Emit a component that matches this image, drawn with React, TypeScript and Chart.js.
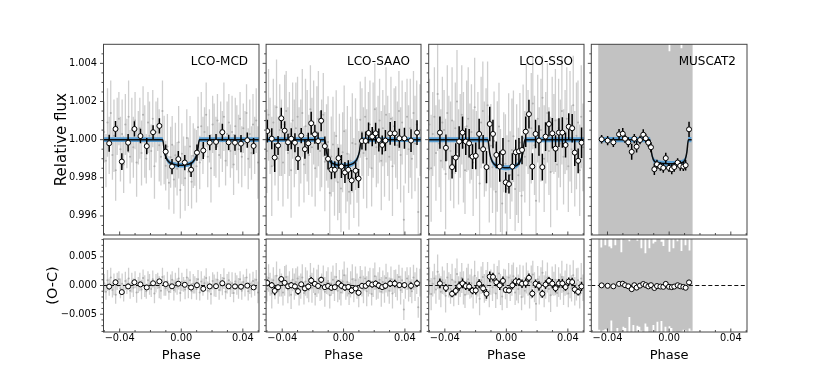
import React, { useEffect, useRef } from 'react';
import { Chart, registerables } from 'chart.js';

Chart.register(...registerables);
const FONT = '"DejaVu Sans", sans-serif';
Chart.defaults.font.family = FONT;

// ---------------- axes ----------------
const phaseMin = -0.0505;
const phaseMax = 0.0505;
const fluxMin = 0.995;
const fluxMax = 1.005;
const residMin = -0.0081;
const residMax = 0.0081;

const phaseTicks = [-0.04, 0, 0.04];
const phaseTickLabels = ['\u22120.04', '0.00', '0.04'];
const phaseMinorTicks = [-0.05, -0.03, -0.02, -0.01, 0.01, 0.02, 0.03, 0.05];
const fluxTicks = [0.996, 0.998, 1.0, 1.002, 1.004];
const fluxTickLabels = ['0.996', '0.998', '1.000', '1.002', '1.004'];
const fluxMinorTicks = [0.9955, 0.9965, 0.997, 0.9975, 0.9985, 0.999, 0.9995, 1.0005, 1.001, 1.0015, 1.0025, 1.003, 1.0035, 1.0045];
const residTicks = [-0.005, 0, 0.005];
const residTickLabels = ['\u22120.005', '0.000', '0.005'];
const residMinorTicks = [-0.008, -0.007, -0.006, -0.004, -0.003, -0.002, -0.001, 0.001, 0.002, 0.003, 0.004, 0.006, 0.007, 0.008];

const instruments = ['LCO-MCD', 'LCO-SAAO', 'LCO-SSO', 'MUSCAT2'];

// ---------------- LCO unbinned cadence (phase) ----------------
const lcoPhase = [
  -0.0500, -0.0489, -0.0479, -0.0468, -0.0458, -0.0447, -0.0437, -0.0426, -0.0416, -0.0405,
  -0.0395, -0.0384, -0.0374, -0.0363, -0.0353, -0.0342, -0.0332, -0.0321, -0.0311, -0.0300,
  -0.0290, -0.0279, -0.0269, -0.0258, -0.0248, -0.0237, -0.0227, -0.0216, -0.0206, -0.0195,
  -0.0185, -0.0174, -0.0164, -0.0153, -0.0143, -0.0132, -0.0122, -0.0111, -0.0101, -0.0090,
  -0.0080, -0.0069, -0.0059, -0.0048, -0.0038, -0.0027, -0.0017, -0.0006, 0.0004, 0.0015,
  0.0025, 0.0036, 0.0046, 0.0057, 0.0067, 0.0078, 0.0088, 0.0099, 0.0109, 0.0120,
  0.0130, 0.0141, 0.0151, 0.0162, 0.0172, 0.0183, 0.0193, 0.0204, 0.0214, 0.0225,
  0.0235, 0.0246, 0.0256, 0.0267, 0.0277, 0.0288, 0.0298, 0.0309, 0.0319, 0.0330,
  0.0340, 0.0351, 0.0361, 0.0372, 0.0382, 0.0393, 0.0403, 0.0414, 0.0424, 0.0435,
  0.0445, 0.0456, 0.0466, 0.0477, 0.0487, 0.0498,
];

// ---------------- LCO-MCD ----------------
const mcdResidPpt = [
  0.4, -1.1, 0.9, -0.3, 1.4, -0.8, 0.2, -1.6, 0.7, 1.1,
  -0.5, 0.3, -1.3, 0.8, -0.2, 1.2, -0.9, 0.5, -0.4, 1.0,
  -1.2, 0.1, 0.6, -0.7, 1.3, -0.1, -1.0, 0.9, 0.2, -0.6,
  1.1, -1.4, 0.4, 0.8, -0.3, -0.9, 1.5, 0.0, -0.5, 0.7,
  -1.1, 0.3, 1.0, -0.8, 0.5, -0.2, 1.2, -1.3, 0.6, 0.2,
  -0.7, 1.4, -0.4, 0.9, -1.0, 0.3, 0.1, -0.6, 1.1, -1.2,
  0.7, -0.3, 0.4, 1.3, -0.9, 0.2, -1.5, 0.8, 0.0, -0.4,
  1.0, -0.8, 0.5, -0.1, 1.2, -1.1, 0.3, 0.9, -0.6, 0.4,
  -1.3, 0.7, 0.1, -0.5, 1.1, -0.9, 0.6, -0.2, 1.4, -1.0,
  0.3, -0.7, 0.8, -0.3, 1.0, -1.2,
];
const mcdErrPpt = [
  1.6, 1.4, 1.8, 1.5, 1.7, 1.3, 1.9, 1.6, 1.5, 1.4,
  1.7, 1.8, 1.5, 1.6, 1.3, 1.9, 1.4, 1.7, 1.6, 1.5,
  1.8, 1.4, 1.6, 1.7, 1.5, 1.9, 1.3, 1.6, 1.8, 1.4,
  1.5, 1.7, 1.6, 1.4, 1.9, 1.5, 1.6, 1.8, 1.3, 1.7,
  1.4, 1.6, 1.5, 1.8, 1.7, 1.4, 1.9, 1.5, 1.6, 1.3,
  1.7, 1.5, 1.8, 1.6, 1.4, 1.7, 1.5, 1.9, 1.6, 1.4,
  1.8, 1.5, 1.3, 1.7, 1.6, 1.4, 1.8, 1.5, 1.9, 1.6,
  1.4, 1.7, 1.5, 1.6, 1.8, 1.3, 1.7, 1.5, 1.4, 1.9,
  1.6, 1.5, 1.7, 1.8, 1.4, 1.6, 1.3, 1.7, 1.5, 1.6,
  1.8, 1.4, 1.6, 1.5, 1.7, 1.9,
];
const mcdBinPhase = [
  -0.0468, -0.0427, -0.0386, -0.0345, -0.0304, -0.0265, -0.0224, -0.0183, -0.0142, -0.0101,
  -0.0060, -0.0019, 0.0023, 0.0064, 0.0102, 0.0143, 0.0185, 0.0226, 0.0267, 0.0308,
  0.0349, 0.0388, 0.0429, 0.0470,
];
const mcdBinFlux = [
  0.99981, 1.00056, 0.99885, 0.99984, 1.00056, 1.00019, 0.99966, 1.00039, 1.00072, 0.99937,
  0.99859, 0.99898, 0.99880, 0.99842, 0.99932, 0.99943, 0.99984, 0.99988, 1.00039, 0.99986,
  0.99984, 0.99979, 0.99997, 0.99967,
];
const mcdBinErrPpt = [
  0.45, 0.42, 0.44, 0.46, 0.40, 0.38, 0.42, 0.36, 0.40, 0.38,
  0.40, 0.42, 0.40, 0.38, 0.42, 0.45, 0.40, 0.42, 0.44, 0.40,
  0.42, 0.45, 0.40, 0.42,
];
const mcdModelPhase = [-0.0505, -0.0121, -0.0109, -0.0097, -0.0083, -0.0065, -0.0040, -0.0015, 0.0010, 0.0035, 0.0060, 0.0078, 0.0092, 0.0105, 0.0118, 0.0505];
const mcdModelFlux = [1.0, 1.0, 0.99935, 0.99903, 0.99886, 0.99875, 0.99869, 0.99866, 0.99866, 0.99869, 0.99875, 0.99886, 0.99903, 0.99935, 1.0, 1.0];
const mcdBandPpt = 0.12;

// ---------------- LCO-SAAO ----------------
const saaoResidPpt = [
  -0.6, 1.3, 0.2, -1.4, 0.9, -0.3, 1.7, -1.0, 0.5, 0.1,
  -1.2, 0.8, 1.5, -0.7, 0.3, -1.6, 1.0, -0.2, 0.6, 1.2,
  -0.9, -0.1, 1.4, -1.3, 0.7, 0.2, -0.8, 1.6, -0.4, 0.9,
  -1.5, 0.4, 1.1, -0.6, -0.2, 1.3, -1.1, 0.5, 0.8, -1.7,
  0.3, 1.0, -0.5, 1.5, -0.9, 0.1, -1.2, 0.7, 1.8, -0.3,
  0.6, -1.4, 0.2, 1.1, -0.8, 0.9, -0.1, -1.3, 1.4, 0.4,
  -0.7, 1.2, -1.0, 0.3, 0.8, -1.5, 0.5, 1.6, -0.4, 0.0,
  1.0, -1.1, 0.6, -0.6, 1.3, 0.2, -0.9, 1.1, -1.4, 0.7,
  0.4, -0.3, 1.5, -0.8, 0.9, -4.2, 0.1, 1.2, -0.5, 0.6,
  -1.0, 1.4, -0.2, 0.8, -3.8, 0.5,
];
const saaoErrPpt = [
  2.2, 2.4, 2.0, 2.6, 2.3, 2.1, 2.5, 2.2, 2.4, 2.0,
  2.3, 2.6, 2.1, 2.4, 2.2, 2.5, 2.0, 2.3, 2.4, 2.1,
  2.6, 2.2, 2.3, 2.0, 2.5, 2.4, 2.1, 2.3, 2.6, 2.2,
  2.0, 2.4, 2.5, 2.1, 2.3, 2.2, 2.6, 2.0, 2.4, 2.3,
  2.1, 2.5, 2.2, 2.4, 2.0, 2.6, 2.3, 2.1, 2.4, 2.2,
  2.5, 2.0, 2.3, 2.6, 2.1, 2.4, 2.2, 2.5, 2.0, 2.3,
  2.4, 2.1, 2.6, 2.2, 2.3, 2.0, 2.5, 2.4, 2.1, 2.3,
  2.2, 2.6, 2.0, 2.4, 2.5, 2.1, 2.3, 2.2, 2.6, 2.0,
  2.4, 2.3, 2.1, 2.5, 2.2, 1.8, 2.4, 2.0, 2.3, 2.6,
  2.1, 2.2, 2.5, 2.3, 1.8, 2.4,
];
const saaoBinPhase = [
  -0.0497, -0.0468, -0.0449, -0.0427, -0.0406, -0.0384, -0.0362, -0.0341, -0.0317, -0.0297,
  -0.0276, -0.0252, -0.0230, -0.0211, -0.0187, -0.0166, -0.0146, -0.0122, -0.0101, -0.0079,
  -0.0057, -0.0033, -0.0014, 0.0009, 0.0031, 0.0053, 0.0079, 0.0098, 0.0120, 0.0144,
  0.0163, 0.0187, 0.0209, 0.0230, 0.0252, 0.0273, 0.0304, 0.0334, 0.0364, 0.0397,
  0.0440, 0.0479,
];
const saaoBinFlux = [
  1.00045, 1.00005, 0.99906, 0.99969, 1.00112, 1.00047, 0.99986, 1.00005, 0.99984, 0.99901,
  1.00021, 0.99950, 0.99981, 1.00086, 1.00028, 0.99992, 1.00099, 0.99966, 0.99899, 0.99842,
  0.99842, 0.99903, 0.99859, 0.99828, 0.99842, 0.99786, 0.99837, 0.99796, 0.99993, 0.99993,
  1.00035, 1.00016, 1.00033, 0.99998, 0.99972, 0.99995, 1.00033, 1.00033, 1.00007, 1.00007,
  0.99995, 1.00037,
];
const saaoBinErrPpt = [
  0.60, 0.55, 0.75, 0.50, 0.55, 0.50, 0.45, 0.55, 0.50, 0.60,
  0.40, 0.50, 0.55, 0.60, 0.50, 0.45, 0.55, 0.50, 0.55, 0.50,
  0.45, 0.55, 0.60, 0.55, 0.50, 0.55, 0.45, 0.50, 0.45, 0.50,
  0.55, 0.50, 0.55, 0.60, 0.50, 0.55, 0.60, 0.65, 0.50, 0.55,
  0.60, 0.65,
];
const saaoModelPhase = [-0.0505, -0.0123, -0.0111, -0.0099, -0.0085, -0.0065, -0.0040, -0.0015, 0.0010, 0.0035, 0.0058, 0.0076, 0.0090, 0.0103, 0.0116, 0.0505];
const saaoModelFlux = [1.0, 1.0, 0.99935, 0.99902, 0.99884, 0.99873, 0.99867, 0.99864, 0.99864, 0.99867, 0.99873, 0.99884, 0.99902, 0.99935, 1.0, 1.0];
const saaoBandPpt = 0.12;

// ---------------- LCO-SSO ----------------
const ssoResidPpt = [
  0.8, -1.5, 0.3, 1.2, -0.7, 2.4, -0.2, -1.1, 0.9, 0.5,
  -1.8, 1.4, 0.1, -0.6, 1.0, -1.3, 0.6, 2.0, -0.9, 0.2,
  1.3, -0.4, -1.6, 0.7, 1.1, -0.2, 0.4, -1.2, 1.7, -0.8,
  0.3, -2.3, 0.9, 1.5, -0.5, 0.0, 1.8, -1.0, 0.6, -0.3,
  1.2, -1.4, 0.5, 2.1, -0.7, -1.9, 0.8, 0.2, -1.1, 1.4,
  -0.4, 0.9, 1.6, -1.2, 0.3, -0.6, 1.0, -2.0, 0.7, -0.9,
  1.3, 0.4, -1.5, 0.6, 1.9, -0.3, -3.2, 1.1, -0.8, 0.5,
  2.2, -1.0, 0.1, 1.4, -0.6, -1.7, 0.8, 0.3, 1.0, -1.3,
  0.6, -0.2, 1.5, -0.9, 0.4, 1.1, -1.4, 0.7, -0.5, 1.8,
  -1.0, 0.2, 0.9, -1.6, 1.2, -0.4,
];
const ssoErrPpt = [
  2.4, 2.8, 2.2, 2.6, 2.5, 3.0, 2.3, 2.7, 2.4, 2.1,
  2.9, 2.5, 2.2, 2.6, 2.8, 2.3, 2.4, 2.7, 2.5, 2.2,
  2.6, 2.9, 2.3, 2.4, 2.7, 2.1, 2.5, 2.8, 2.6, 2.3,
  2.2, 2.9, 2.4, 2.6, 2.5, 2.7, 2.3, 2.8, 2.2, 2.4,
  2.6, 2.5, 2.9, 2.3, 2.7, 2.4, 2.1, 2.6, 2.8, 2.5,
  2.3, 2.7, 2.4, 2.2, 2.9, 2.5, 2.6, 2.3, 2.8, 2.4,
  2.7, 2.2, 2.5, 2.9, 2.4, 2.6, 3.0, 2.3, 2.5, 2.7,
  2.2, 2.8, 2.4, 2.6, 2.3, 2.9, 2.5, 2.1, 2.7, 2.4,
  2.6, 2.3, 2.8, 2.5, 2.2, 2.7, 2.4, 2.9, 2.3, 2.6,
  2.5, 2.8, 2.2, 2.4, 2.7, 2.3,
];
const ssoBinPhase = [
  -0.0432, -0.0393, -0.0353, -0.0329, -0.0307, -0.0285, -0.0264, -0.0242, -0.0220, -0.0199,
  -0.0177, -0.0151, -0.0129, -0.0108, -0.0087, -0.0065, -0.0043, -0.0022, -0.0004, 0.0017,
  0.0039, 0.0061, 0.0082, 0.0102, 0.0126, 0.0147, 0.0169, 0.0190, 0.0212, 0.0234,
  0.0255, 0.0277, 0.0299, 0.0320, 0.0342, 0.0364, 0.0385, 0.0406, 0.0428, 0.0445,
  0.0467, 0.0489,
];
const ssoBinFlux = [
  1.00037, 0.99957, 0.99856, 0.99906, 0.99990, 1.00037, 0.99990, 0.99981, 0.99911, 0.99915,
  1.00030, 0.99950, 0.99856, 1.00082, 1.00030, 0.99920, 0.99859, 0.99934, 0.99776, 0.99767,
  0.99859, 0.99934, 0.99939, 0.99946, 1.00042, 1.00134, 0.99859, 1.00030, 0.99995, 0.99856,
  1.00016, 1.00082, 1.00033, 0.99953, 1.00037, 1.00037, 0.99972, 1.00068, 1.00060, 0.99932,
  0.99889, 0.99984,
];
const ssoBinErrPpt = [
  0.85, 0.70, 0.60, 0.75, 0.80, 0.85, 0.70, 0.75, 0.65, 0.70,
  0.80, 0.75, 0.85, 0.90, 0.75, 0.70, 0.80, 0.75, 0.55, 0.50,
  0.70, 0.65, 0.70, 0.75, 0.80, 0.75, 0.70, 0.75, 0.80, 0.70,
  0.75, 0.65, 0.80, 0.70, 0.75, 0.80, 0.65, 0.70, 0.75, 0.70,
  0.65, 0.80,
];
const ssoModelPhase = [-0.0505, -0.0120, -0.0108, -0.0096, -0.0082, -0.0062, -0.0037, -0.0012, 0.0013, 0.0038, 0.0062, 0.0080, 0.0094, 0.0107, 0.0120, 0.0505];
const ssoModelFlux = [1.0, 1.0, 0.99928, 0.99893, 0.99874, 0.99862, 0.99856, 0.99853, 0.99853, 0.99856, 0.99862, 0.99874, 0.99893, 0.99928, 1.0, 1.0];
const ssoBandPpt = 0.13;

// ---------------- MUSCAT2 ----------------
const muscatPhase = [
  -0.0453, -0.0440, -0.0427, -0.0414, -0.0401, -0.0388, -0.0375, -0.0362, -0.0349, -0.0336,
  -0.0323, -0.0310, -0.0297, -0.0284, -0.0271, -0.0258, -0.0245, -0.0232, -0.0219, -0.0206,
  -0.0193, -0.0180, -0.0167, -0.0154, -0.0141, -0.0128, -0.0115, -0.0102, -0.0089, -0.0076,
  -0.0063, -0.0050, -0.0037, -0.0024, -0.0011, 0.0002, 0.0015, 0.0028, 0.0041, 0.0054,
  0.0067, 0.0080, 0.0093, 0.0106, 0.0119, 0.0132, 0.0145,
];
const muscatResidPpt = [
  0.5, -0.8, 1.2, -0.3, 0.9, -1.1, 0.2, 0.7, -0.6, 1.0,
  -0.4, -1.2, 0.8, 0.3, -0.9, 1.1, -0.2, 0.6, -1.0, 0.4,
  1.3, -0.7, 0.1, -0.5, 0.9, -1.3, 0.6, 0.2, -0.8, 1.0,
  -0.3, 0.7, -1.1, 0.4, 0.8, -0.6, 1.2, -0.9, 0.3, -0.2,
  1.0, -1.0, 0.5, -0.4, 0.9, -0.7, 0.6,
];
const muscatErrPpt = [
  8.2, 7.4, 9.0, 7.3, 8.6, 7.9, 6.3, 8.8, 7.6, 8.4,
  9.3, 7.0, 8.0, 7.7, 8.9, 6.6, 8.3, 7.5, 9.1, 7.4,
  8.5, 7.2, 8.7, 6.1, 8.1, 7.8, 9.2, 7.1, 8.4, 7.3,
  8.8, 6.9, 8.0, 7.6, 9.0, 6.5, 8.6, 7.4, 8.3, 7.9,
  9.4, 7.0, 8.2, 7.4, 8.9, 6.8, 8.5,
];
const muscatBinPhase = [
  -0.0438, -0.0399, -0.0362, -0.0325, -0.0301, -0.0286, -0.0265, -0.0243, -0.0226, -0.0211,
  -0.0189, -0.0168, -0.0152, -0.0135, -0.0118, -0.0096, -0.0079, -0.0057, -0.0038, -0.0022,
  -0.0001, 0.0017, 0.0033, 0.0055, 0.0072, 0.0092, 0.0107, 0.0129,
];
const muscatBinFlux = [
  1.00002, 0.99995, 0.99986, 1.00028, 1.00031, 1.00005, 0.99986, 0.99936, 1.00005, 0.99963,
  0.99998, 1.00026, 1.00007, 0.99984, 0.99960, 0.99845, 0.99871, 0.99859, 0.99852, 0.99903,
  0.99852, 0.99845, 0.99856, 0.99880, 0.99863, 0.99859, 0.99866, 1.00054,
];
const muscatBinErrPpt = [
  0.22, 0.24, 0.25, 0.28, 0.30, 0.22, 0.26, 0.42, 0.24, 0.30,
  0.22, 0.28, 0.24, 0.22, 0.26, 0.30, 0.24, 0.22, 0.26, 0.28,
  0.22, 0.26, 0.24, 0.22, 0.26, 0.24, 0.28, 0.40,
];
const muscatModelPhase = [-0.0453, -0.0125, -0.0115, -0.0104, -0.0092, -0.0070, -0.0030, 0.0010, 0.0050, 0.0075, 0.0093, 0.0105, 0.0115, 0.0125, 0.0146];
const muscatModelFlux = [1.0, 1.0, 0.99935, 0.99898, 0.99884, 0.99878, 0.99875, 0.99874, 0.99875, 0.99878, 0.99884, 0.99898, 0.99935, 1.0, 1.0];
const muscatBandPpt = 0.14;

// ---------------- assembled table ----------------
type Inst = {
  name: string;
  rawPhase: number[];
  rawResidPpt: number[];
  rawErrPpt: number[];
  binPhase: number[];
  binFlux: number[];
  binErrPpt: number[];
  modelPhase: number[];
  modelFlux: number[];
  bandPpt: number;
  dense: boolean;
};

const INSTS: Inst[] = [
  { name: instruments[0], rawPhase: lcoPhase, rawResidPpt: mcdResidPpt, rawErrPpt: mcdErrPpt, binPhase: mcdBinPhase, binFlux: mcdBinFlux, binErrPpt: mcdBinErrPpt, modelPhase: mcdModelPhase, modelFlux: mcdModelFlux, bandPpt: mcdBandPpt, dense: false },
  { name: instruments[1], rawPhase: lcoPhase, rawResidPpt: saaoResidPpt, rawErrPpt: saaoErrPpt, binPhase: saaoBinPhase, binFlux: saaoBinFlux, binErrPpt: saaoBinErrPpt, modelPhase: saaoModelPhase, modelFlux: saaoModelFlux, bandPpt: saaoBandPpt, dense: false },
  { name: instruments[2], rawPhase: lcoPhase, rawResidPpt: ssoResidPpt, rawErrPpt: ssoErrPpt, binPhase: ssoBinPhase, binFlux: ssoBinFlux, binErrPpt: ssoBinErrPpt, modelPhase: ssoModelPhase, modelFlux: ssoModelFlux, bandPpt: ssoBandPpt, dense: false },
  { name: instruments[3], rawPhase: muscatPhase, rawResidPpt: muscatResidPpt, rawErrPpt: muscatErrPpt, binPhase: muscatBinPhase, binFlux: muscatBinFlux, binErrPpt: muscatBinErrPpt, modelPhase: muscatModelPhase, modelFlux: muscatModelFlux, bandPpt: muscatBandPpt, dense: true },
];

// ---------------- helpers ----------------
function modelAt(xs: number[], ys: number[], x: number): number {
  if (x <= xs[0]) return ys[0];
  for (let i = 1; i < xs.length; i++) {
    if (x <= xs[i]) {
      const t = (x - xs[i - 1]) / (xs[i] - xs[i - 1]);
      return ys[i - 1] + t * (ys[i] - ys[i - 1]);
    }
  }
  return ys[ys.length - 1];
}

function errSegments(xs: number[], ys: number[], es: number[]) {
  const out: any[] = [];
  for (let i = 0; i < xs.length; i++) {
    out.push({ x: xs[i], y: ys[i] - es[i] });
    out.push({ x: xs[i], y: ys[i] + es[i] });
    out.push({ x: xs[i], y: null });
  }
  return out;
}

function labelFor(vals: number[], labels: string[], v: number) {
  for (let i = 0; i < vals.length; i++) if (Math.abs(vals[i] - v) < 1e-9) return labels[i];
  return '';
}

const COL_LEFT = [103.5, 266.1, 428.7, 591.3];
const PANEL_W = 155.8;
const ROW_TOP = [44.3, 239];
const ROW_BOTTOM = [235, 332];
const TICK_FONT = 9.8;

function geometry(col: number, row: number) {
  const cx = col === 0 ? 0 : Math.floor(COL_LEFT[col] - 10);
  const L = COL_LEFT[col] - cx;
  const cw = Math.ceil(COL_LEFT[col] + PANEL_W + 4) - cx;
  const R = cw - L - PANEL_W;
  const cy = row === 0 ? 0 : 222;
  const ch = row === 0 ? 252 : 374 - 222;
  const T = ROW_TOP[row] - cy;
  const B = cy + ch - ROW_BOTTOM[row];
  return { cx, cy, cw, ch, L, R, T, B };
}

function makeFramePlugin(xMajor: number[], xMinor: number[], yMajor: number[], yMinor: number[], label: string | null) {
  return {
    id: 'panelFrame',
    afterDatasetsDraw(chart: any) {
      const { ctx, chartArea: a, scales } = chart;
      const xs = scales.x;
      const ys = scales.y;
      ctx.save();
      ctx.strokeStyle = '#3a3a3a';
      ctx.lineWidth = 0.9;
      ctx.beginPath();
      for (const v of xMajor) {
        const p = xs.getPixelForValue(v);
        ctx.moveTo(p, a.bottom);
        ctx.lineTo(p, a.bottom - 3.5);
      }
      for (const v of xMinor) {
        const p = xs.getPixelForValue(v);
        ctx.moveTo(p, a.bottom);
        ctx.lineTo(p, a.bottom - 2);
      }
      for (const v of yMajor) {
        const p = ys.getPixelForValue(v);
        ctx.moveTo(a.left, p);
        ctx.lineTo(a.left - 3.5, p);
      }
      for (const v of yMinor) {
        const p = ys.getPixelForValue(v);
        ctx.moveTo(a.left, p);
        ctx.lineTo(a.left - 2, p);
      }
      ctx.stroke();
      ctx.lineWidth = 1;
      ctx.strokeStyle = '#444';
      ctx.strokeRect(a.left, a.top, a.right - a.left, a.bottom - a.top);
      if (label) {
        ctx.fillStyle = '#000';
        ctx.font = '12px ' + FONT;
        ctx.textAlign = 'right';
        ctx.textBaseline = 'alphabetic';
        ctx.fillText(label, a.right - 11, a.top + 20.3);
      }
      ctx.restore();
    },
  };
}

function makeConfig(col: number, row: number, g: ReturnType<typeof geometry>) {
  const inst = INSTS[col];
  const top = row === 0;
  const model = (x: number) => modelAt(inst.modelPhase, inst.modelFlux, x);
  const resid = inst.rawResidPpt.map((v) => v / 1000);
  const err = inst.rawErrPpt.map((v) => v / 1000);
  const binErr = inst.binErrPpt.map((v) => v / 1000);
  const rawY = top ? inst.rawPhase.map((x, i) => model(x) + resid[i]) : resid;
  const binY = top ? inst.binFlux : inst.binFlux.map((f, i) => f - model(inst.binPhase[i]));

  const datasets: any[] = [];
  datasets.push({
    type: 'line',
    data: errSegments(inst.rawPhase, rawY, err),
    borderColor: inst.dense ? '#c2c2c2' : '#cfcfcf',
    borderWidth: inst.dense ? 2.2 : 1.3,
    pointRadius: 0,
    spanGaps: false,
    fill: false,
    tension: 0,
    order: 20,
    clip: 0,
  });
  if (!inst.dense) {
    datasets.push({
      type: 'scatter',
      data: inst.rawPhase.map((x, i) => ({ x, y: rawY[i] })),
      pointRadius: 1,
      backgroundColor: '#adadad',
      borderWidth: 0,
      order: 19,
    });
  }
  if (top) {
    const w = inst.bandPpt / 1000;
    datasets.push({
      type: 'line',
      data: inst.modelPhase.map((x, i) => ({ x, y: inst.modelFlux[i] + w })),
      borderWidth: 0,
      pointRadius: 0,
      backgroundColor: '#5a9fd4',
      fill: '+1',
      cubicInterpolationMode: 'monotone',
      order: 12,
    });
    datasets.push({
      type: 'line',
      data: inst.modelPhase.map((x, i) => ({ x, y: inst.modelFlux[i] - w })),
      borderWidth: 0,
      pointRadius: 0,
      fill: false,
      cubicInterpolationMode: 'monotone',
      order: 11,
    });
    datasets.push({
      type: 'line',
      data: inst.modelPhase.map((x, i) => ({ x, y: inst.modelFlux[i] })),
      borderColor: '#0b0b0b',
      borderWidth: 1.5,
      pointRadius: 0,
      fill: false,
      cubicInterpolationMode: 'monotone',
      order: 10,
    });
  } else {
    datasets.push({
      type: 'line',
      data: [{ x: phaseMin, y: 0 }, { x: phaseMax, y: 0 }],
      borderColor: '#111',
      borderWidth: 1,
      borderDash: [4, 2.5],
      pointRadius: 0,
      fill: false,
      order: 10,
    });
  }
  datasets.push({
    type: 'line',
    data: errSegments(inst.binPhase, binY, binErr),
    borderColor: '#000',
    borderWidth: 1.5,
    pointRadius: 0,
    spanGaps: false,
    fill: false,
    tension: 0,
    order: 5,
  });
  datasets.push({
    type: 'scatter',
    data: inst.binPhase.map((x, i) => ({ x, y: binY[i] })),
    pointRadius: 2.5,
    backgroundColor: '#ffffff',
    borderColor: '#000',
    borderWidth: 1,
    order: 4,
  });

  const yTicks = top ? fluxTicks : residTicks;
  const yLabels = top ? fluxTickLabels : residTickLabels;
  const yMinor = top ? fluxMinorTicks : residMinorTicks;

  return {
    type: 'scatter',
    data: { datasets },
    options: {
      animation: false,
      responsive: false,
      maintainAspectRatio: false,
      events: [],
      layout: { padding: { left: 0, top: g.T, right: g.R, bottom: 0 } },
      plugins: { legend: { display: false }, tooltip: { enabled: false } },
      scales: {
        x: {
          type: 'linear',
          position: 'bottom',
          min: phaseMin,
          max: phaseMax,
          offset: false,
          grid: { display: false, drawTicks: false },
          border: { display: false },
          afterBuildTicks: (s: any) => {
            s.ticks = phaseTicks.map((v) => ({ value: v }));
          },
          afterFit: (s: any) => {
            s.height = g.B;
          },
          ticks: {
            display: !top,
            autoSkip: false,
            includeBounds: false,
            maxRotation: 0,
            minRotation: 0,
            padding: 1,
            color: '#000',
            font: { size: TICK_FONT, family: FONT },
            callback: (v: number) => labelFor(phaseTicks, phaseTickLabels, v),
          },
          title: {
            display: !top,
            text: 'Phase',
            color: '#000',
            font: { size: 13, family: FONT },
            padding: { top: 0, bottom: 11 },
          },
        },
        y: {
          type: 'linear',
          position: 'left',
          min: top ? fluxMin : residMin,
          max: top ? fluxMax : residMax,
          grid: { display: false, drawTicks: false },
          border: { display: false },
          afterBuildTicks: (s: any) => {
            s.ticks = yTicks.map((v) => ({ value: v }));
          },
          afterFit: (s: any) => {
            s.width = g.L;
          },
          ticks: {
            display: col === 0,
            autoSkip: false,
            includeBounds: false,
            padding: 6.5,
            color: '#000',
            font: { size: TICK_FONT, family: FONT },
            callback: (v: number) => labelFor(yTicks, yLabels, v),
          },
          title: {
            display: col === 0,
            text: top ? 'Relative flux' : '(O-C)',
            color: '#000',
            font: { size: top ? 15 : 14.5, family: FONT },
            padding: { top: top ? 52.7 : 44.8, bottom: 0 },
          },
        },
      },
    },
    plugins: [makeFramePlugin(phaseTicks, phaseMinorTicks, yTicks, yMinor, top ? inst.name : null)],
  };
}

function Panel({ col, row }: { col: number; row: number }) {
  const ref = useRef<HTMLCanvasElement>(null);
  const g = geometry(col, row);
  useEffect(() => {
    const chart = new Chart(ref.current as HTMLCanvasElement, makeConfig(col, row, g) as any);
    return () => chart.destroy();
  }, []);
  return (
    <canvas
      ref={ref}
      width={g.cw}
      height={g.ch}
      style={{ position: 'absolute', left: g.cx, top: g.cy, width: g.cw, height: g.ch }}
    />
  );
}

export default function App() {
  const panels: any[] = [];
  for (let row = 0; row < 2; row++) {
    for (let col = 0; col < 4; col++) {
      panels.push(<Panel key={row + '-' + col} col={col} row={row} />);
    }
  }
  return (
    <div style={{ position: 'absolute', left: 0, top: 0, width: 830, height: 374, background: '#fff', overflow: 'hidden' }}>
      {panels}
    </div>
  );
}
